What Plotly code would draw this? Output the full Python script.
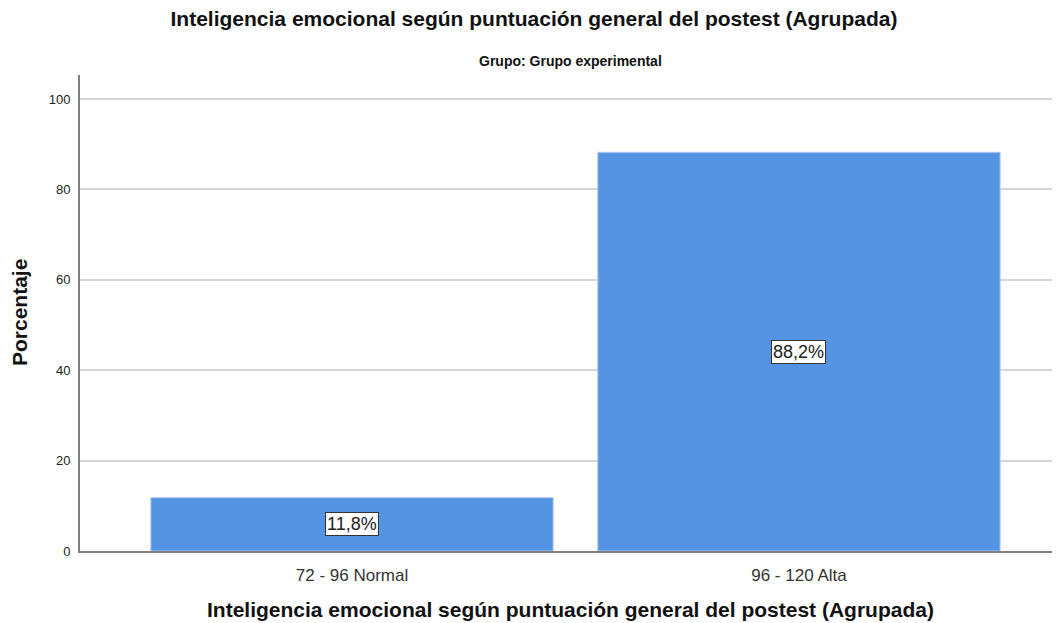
import plotly.graph_objects as go

categories = ["72 - 96 Normal", "96 - 120 Alta"]
percentages = [11.8, 88.2]
labels = ["11,8%", "88,2%"]
y_ticks = [0, 20, 40, 60, 80, 100]

FONT = "Liberation Sans, Arial, sans-serif"
BAR = "#5594E3"
TITLE = "Inteligencia emocional según puntuación general del postest (Agrupada)"

fig = go.Figure()
fig.add_trace(go.Bar(
    x=categories, y=percentages,
    marker=dict(color=BAR, line=dict(color="#A9C8F0", width=1)),
    width=0.9, hoverinfo="skip", showlegend=False,
))

for c, v, t in zip(categories, percentages, labels):
    fig.add_annotation(
        x=c, y=v / 2, text=t, showarrow=False,
        font=dict(family=FONT, size=18, color="#222"),
        bgcolor="white", bordercolor="#333", borderwidth=1, borderpad=1,
    )

fig.add_annotation(
    x=0.5, xref="paper", y=1.0, yref="paper", yanchor="middle", yshift=14,
    text="<b>Grupo: Grupo experimental</b>", showarrow=False,
    font=dict(family=FONT, size=14, color="#111"),
)
fig.add_annotation(
    x=0, xref="paper", y=0.5, yref="paper", xanchor="center", yanchor="middle",
    xshift=-61, textangle=-90,
    text="<b>Porcentaje</b>", showarrow=False,
    font=dict(family=FONT, size=21, color="#111"),
)
fig.add_annotation(
    x=0.5, xref="paper", y=0, yref="paper", xanchor="center", yanchor="middle",
    yshift=-58,
    text="<b>" + TITLE + "</b>", showarrow=False,
    font=dict(family=FONT, size=21, color="#111"),
)

fig.update_layout(
    width=1052, height=615,
    margin=dict(l=72, r=0, t=67, b=72),
    paper_bgcolor="white", plot_bgcolor="white",
    title=dict(
        text="<b>" + TITLE + "</b>",
        x=0.5, xanchor="center", y=1 - 11 / 615, yanchor="middle", yref="container",
        font=dict(family=FONT, size=21, color="#111"),
    ),
    font=dict(family=FONT),
    bargap=0.1,
)
fig.update_xaxes(
    range=[-0.6085, 1.584],
    showline=True, linecolor="#808080", linewidth=2,
    showgrid=False, ticks="", ticklabelstandoff=8,
    tickfont=dict(family=FONT, size=17, color="#333"),
)
fig.update_yaxes(
    range=[0, 105.3], tickvals=y_ticks,
    showline=True, linecolor="#808080", linewidth=2,
    showgrid=True, gridcolor="#D6D6D6", gridwidth=1.5,
    ticks="", zeroline=False, ticklabelstandoff=5,
    tickfont=dict(family=FONT, size=13, color="#222"),
)

fig.write_html("out.html")
